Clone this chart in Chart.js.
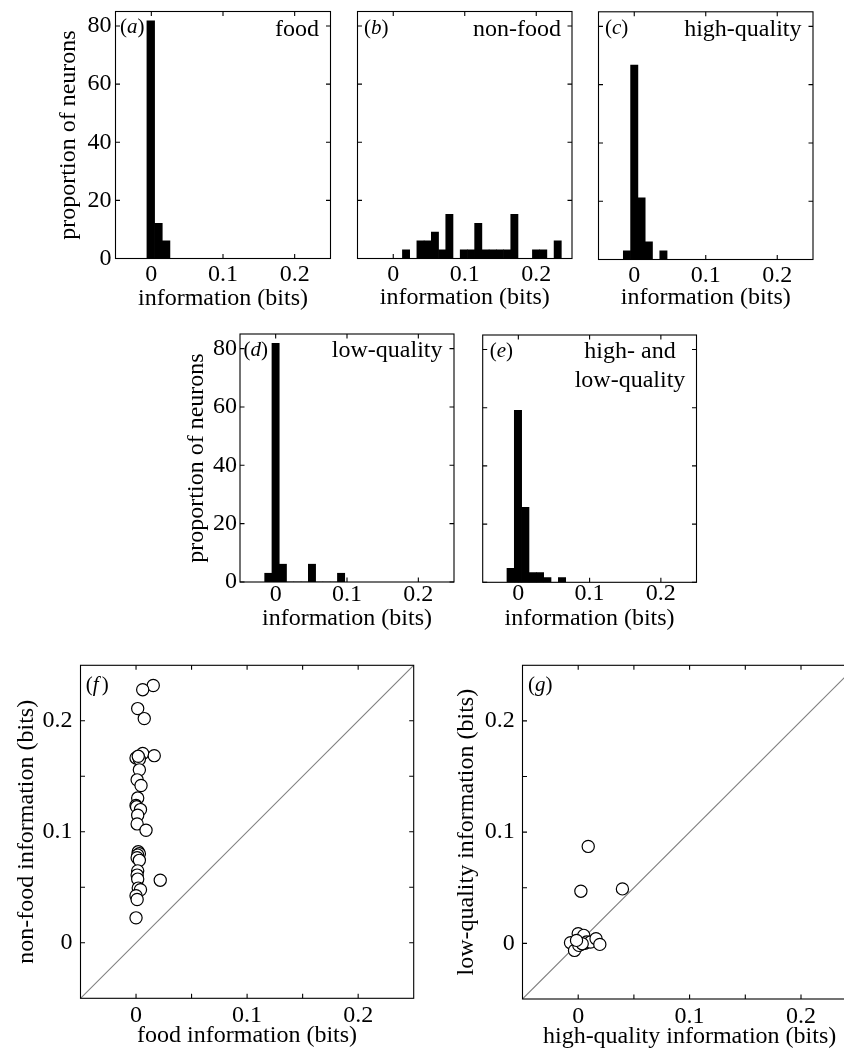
<!DOCTYPE html>
<html>
<head>
<meta charset="utf-8">
<script src="https://cdn.jsdelivr.net/npm/chart.js@4.4.1/dist/chart.umd.min.js"></script>
<style>
  html, body { margin: 0; background: #fff; }
  #page { position: relative; width: 844px; height: 1053px; overflow: hidden; }
  #page canvas { position: absolute; }
</style>
</head>
<body>
<div id="page"></div>
<script>
// histogram bins (information, bits) and proportion of neurons (%)
const binsFood = [-0.0008, 0.0099, 0.0206];
const propFood = [81.8, 12.1, 6.1];

const binsNonFood = [0.0179, 0.0280, 0.0381, 0.0482, 0.0583, 0.0684, 0.0785, 0.0886, 0.0987, 0.1088, 0.1189,
                     0.1290, 0.1391, 0.1492, 0.1593, 0.1694, 0.1795, 0.1896, 0.1997, 0.2098, 0.2199, 0.2300];
const propNonFood = [3.0, 0, 6.1, 6.1, 9.1, 3.0, 15.2, 0, 3.0, 3.0, 12.1,
                     3.0, 3.0, 3.0, 3.0, 15.2, 0, 0, 3.0, 3.0, 0, 6.1];

const binsHigh = [-0.0102, 0.0000, 0.0102, 0.0204, 0.0306, 0.0408];
const propHigh = [3.0, 66.7, 21.2, 6.1, 0, 3.0];

const binsLow = [-0.0103, -0.0001, 0.0101, 0.0203, 0.0305, 0.0407, 0.0509, 0.0611, 0.0713, 0.0815, 0.0917];
const propLow = [3.0, 81.8, 6.1, 0, 0, 0, 6.1, 0, 0, 0, 3.0];

const binsBoth = [-0.0108, -0.0005, 0.0098, 0.0201, 0.0304, 0.0407, 0.0510, 0.0613];
const propBoth = [4.8, 59.1, 25.8, 3.3, 3.3, 1.6, 0, 1.6];

// scatter (f): food vs non-food information per neuron
const foodInfo = [0.0155, 0.0060, 0.0015, 0.0074, 0.0060, 0.0164, 0.0000, 0.0030, 0.0020, 0.0030, 0.0010,
                  0.0045, 0.0015, 0.0000, 0.0005, 0.0040, 0.0015, 0.0010, 0.0090, 0.0020, 0.0030, 0.0015,
                  0.0010, 0.0030, 0.0015, 0.0010, 0.0015, 0.0218, 0.0020, 0.0040, 0.0000, 0.0010, 0.0000];
const nonFoodInfo = [0.2318, 0.2280, 0.2110, 0.2020, 0.1706, 0.1686, 0.1665, 0.1653, 0.1680, 0.1558, 0.1468,
                     0.1417, 0.1304, 0.1238, 0.1225, 0.1200, 0.1149, 0.1071, 0.1014, 0.0820, 0.0802, 0.0790,
                     0.0767, 0.0743, 0.0648, 0.0610, 0.0574, 0.0564, 0.0493, 0.0478, 0.0424, 0.0390, 0.0225];

// scatter (g): high-quality vs low-quality information per neuron
const highInfo = [0.0090, 0.0024, 0.0397, 0.0000, 0.0010, -0.0010, 0.0020, 0.0010, -0.0020, 0.0030, 0.0005,
                  -0.0005, 0.0020, 0.0015, 0.0000, 0.0010, -0.0010, 0.0025, 0.0060, -0.0069, -0.0033, 0.0000,
                  0.0050, 0.0075, 0.0110, 0.0160, 0.0194, 0.0006, 0.0036, -0.0015];
const lowInfo = [0.0872, 0.0469, 0.0490, 0.0000, 0.0010, 0.0005, -0.0010, -0.0005, 0.0000, 0.0010, 0.0015,
                 -0.0010, 0.0025, 0.0000, -0.0020, 0.0030, 0.0010, 0.0005, 0.0000, 0.0006, -0.0063, 0.0087,
                 0.0072, 0.0012, 0.0012, 0.0042, -0.0009, -0.0018, -0.0003, 0.0027];

const unityLine = [-0.05, 0.25];

const histXTicks = [0, 0.1, 0.2];
const histYTicks = [0, 20, 40, 60, 80];
const scatterTicks = [0, 0.05, 0.1, 0.15, 0.2];
const scatterLabelled = [0, 0.1, 0.2];

Chart.defaults.font.family = '"Liberation Serif", "Times New Roman", serif';
Chart.defaults.color = '#000';

const page = document.getElementById('page');
const FONT = 24;
const HALF = FONT * 1.2 / 2;

// frame box, inward ticks, panel letter and name
const framePlugin = {
  id: 'frame',
  afterDraw(chart, args, opts) {
    const { ctx, chartArea: { left, top, right, bottom }, scales: { x, y } } = chart;
    ctx.save();
    ctx.strokeStyle = '#000';
    ctx.lineWidth = 1.1;
    ctx.strokeRect(left, top, right - left, bottom - top);
    ctx.beginPath();
    x.ticks.forEach(t => {
      const px = x.getPixelForValue(t.value);
      ctx.moveTo(px, bottom); ctx.lineTo(px, bottom - 4.5);
      ctx.moveTo(px, top); ctx.lineTo(px, top + 4.5);
    });
    y.ticks.forEach(t => {
      const py = y.getPixelForValue(t.value);
      ctx.moveTo(left, py); ctx.lineTo(left + 4.5, py);
      ctx.moveTo(right, py); ctx.lineTo(right - 4.5, py);
    });
    ctx.stroke();

    ctx.fillStyle = '#000';
    ctx.textBaseline = 'alphabetic';
    let lx = left + opts.letterDx;
    const ly = top + opts.letterDy;
    ctx.textAlign = 'left';
    ctx.font = '21px "Liberation Serif"';
    ctx.fillText('(', lx, ly);
    lx += ctx.measureText('(').width;
    ctx.font = 'italic 21px "Liberation Serif"';
    ctx.fillText(opts.letter, lx, ly);
    lx += ctx.measureText(opts.letter).width + (opts.letterGap || 0);
    ctx.font = '21px "Liberation Serif"';
    ctx.fillText(')', lx, ly);

    ctx.font = FONT + 'px "Liberation Serif"';
    (opts.names || []).forEach(n => {
      ctx.textAlign = n.align || 'right';
      ctx.fillText(n.text, right - n.dx, top + n.dy);
    });
    ctx.restore();
  }
};

function axis(o) {
  return {
    type: 'linear',
    min: o.min, max: o.max,
    offset: false,
    grid: { display: false, drawTicks: false, offset: false },
    border: { display: false },
    afterBuildTicks: s => { s.ticks = o.ticks.map(v => ({ value: v })); },
    afterFit: s => {
      if (s.isHorizontal()) s.height = o.size; else s.width = o.size;
      s.paddingTop = 0; s.paddingBottom = 0; s.paddingLeft = 0; s.paddingRight = 0;
    },
    ticks: {
      display: o.labels,
      padding: o.pad || 0,
      font: { size: FONT },
      color: '#000',
      callback: v => (!o.labelled || o.labelled.includes(v)) ? String(v) : ''
    },
    title: {
      display: !!o.title,
      text: o.title || '',
      font: { size: FONT },
      color: '#000',
      padding: { top: o.titlePad || 0, bottom: o.titlePad || 0 }
    }
  };
}

function makePanel(p, type, datasets, xOpt, yOpt, frameOpts) {
  const x0 = Math.floor(p.yTitleX ? p.yTitleX - HALF : p.l - 4);
  const y0 = Math.floor(p.t - 6);
  const x1 = Math.ceil(p.r + 6);
  const y1 = Math.ceil(p.xTitleY + HALF);
  const canvas = document.createElement('canvas');
  canvas.width = x1 - x0;
  canvas.height = y1 - y0;
  canvas.style.left = x0 + 'px';
  canvas.style.top = y0 + 'px';
  page.appendChild(canvas);

  const L = p.l - x0, T = p.t - y0, R = x1 - p.r, B = y1 - p.b;
  xOpt.size = B;
  xOpt.titlePad = y1 - (p.xTitleY + HALF);
  xOpt.pad = p.xPad;
  yOpt.size = L;
  yOpt.titlePad = p.yTitleX ? (p.yTitleX - HALF - x0) : 0;
  yOpt.pad = p.yPad;

  return new Chart(canvas, {
    type: type,
    data: { datasets: datasets },
    options: {
      responsive: false,
      animation: false,
      devicePixelRatio: 1,
      layout: { padding: { left: 0, top: T, right: R, bottom: 0 } },
      scales: { x: axis(xOpt), y: axis(yOpt) },
      plugins: { legend: { display: false }, tooltip: { enabled: false }, frame: frameOpts }
    },
    plugins: [framePlugin]
  });
}

function hist(p, bins, props, showY, frameOpts) {
  const ds = [{
    data: bins.map((b, i) => ({ x: b, y: props[i] })),
    backgroundColor: '#000',
    borderWidth: 0,
    barPercentage: 1,
    categoryPercentage: 1
  }];
  return makePanel(p, 'bar', ds,
    { min: -0.05, max: 0.25, ticks: histXTicks, labels: true, title: 'information (bits)' },
    { min: 0, max: 85, ticks: histYTicks, labels: showY, title: showY ? 'proportion of neurons' : '' },
    frameOpts);
}

function scatter(p, xs, ys, xTitle, yTitle, frameOpts) {
  const ds = [
    {
      data: xs.map((v, i) => ({ x: v, y: ys[i] })),
      pointRadius: 6.1,
      pointBackgroundColor: '#fff',
      pointBorderColor: '#000',
      pointBorderWidth: 1.2,
      order: 1
    },
    {
      data: unityLine.map(v => ({ x: v, y: v })),
      showLine: true,
      borderColor: '#808080',
      borderWidth: 1.1,
      pointRadius: 0,
      order: 2
    }
  ];
  return makePanel(p, 'scatter', ds,
    { min: -0.05, max: 0.25, ticks: scatterTicks, labelled: scatterLabelled, labels: true, title: xTitle },
    { min: -0.05, max: 0.25, ticks: scatterTicks, labelled: scatterLabelled, labels: true, title: yTitle },
    frameOpts);
}

hist({ l: 115.5, r: 330.5, t: 11.5, b: 258.5, yTitleX: 68.8, xTitleY: 298.8, xPad: 1.5, yPad: 4 },
  binsFood, propFood, true,
  { letter: 'a', letterDx: 4.5, letterDy: 21.5, names: [{ text: 'food', dx: 11.5, dy: 24 }] });

hist({ l: 357.5, r: 572, t: 11.5, b: 258.5, xTitleY: 297.5, xPad: 1.5 },
  binsNonFood, propNonFood, false,
  { letter: 'b', letterDx: 6.5, letterDy: 22.5, names: [{ text: 'non-food', dx: 11, dy: 24 }] });

hist({ l: 598.5, r: 813, t: 11.8, b: 259.5, xTitleY: 297.7, xPad: 1.8 },
  binsHigh, propHigh, false,
  { letter: 'c', letterDx: 6.5, letterDy: 22.5, names: [{ text: 'high-quality', dx: 11.5, dy: 24 }] });

hist({ l: 240, r: 454, t: 334, b: 582, yTitleX: 196.3, xTitleY: 618.8, xPad: -1.5, yPad: 3 },
  binsLow, propLow, true,
  { letter: 'd', letterDx: 3.5, letterDy: 21.5, names: [{ text: 'low-quality', dx: 11.5, dy: 23 }] });

hist({ l: 482.7, r: 696.5, t: 335, b: 582.3, xTitleY: 618.8, xPad: -2.5 },
  binsBoth, propBoth, false,
  { letter: 'e', letterDx: 7, letterDy: 22, names: [
      { text: 'high- and', dx: 66.5, dy: 23, align: 'center' },
      { text: 'low-quality', dx: 66.5, dy: 52, align: 'center' }] });

scatter({ l: 80.5, r: 414.8, t: 664, b: 998.3, yTitleX: 26.3, xTitleY: 1035.5, xPad: 3, yPad: 8 },
  foodInfo, nonFoodInfo, 'food information (bits)', 'non-food information (bits)',
  { letter: 'f', letterDx: 5.3, letterDy: 26, letterGap: 3 });

scatter({ l: 522.5, r: 857.6, t: 664, b: 999, yTitleX: 467.2, xTitleY: 1037, xPad: 3, yPad: 7.7 },
  highInfo, lowInfo, 'high-quality information (bits)', 'low-quality information (bits)',
  { letter: 'g', letterDx: 5.6, letterDy: 26 });
</script>
</body>
</html>
